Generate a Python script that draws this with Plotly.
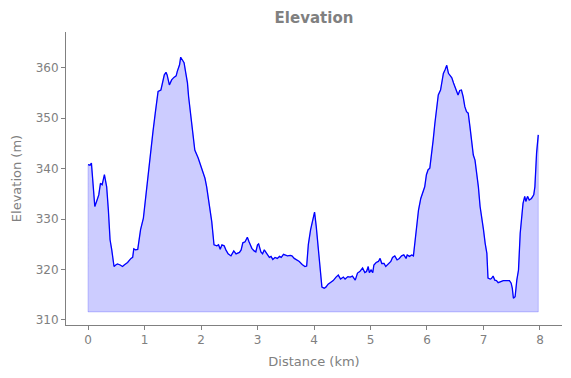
import plotly.graph_objects as go

distance_km = [0.00, 0.035, 0.06, 0.08, 0.12, 0.16, 0.19, 0.22, 0.25, 0.29, 0.31, 0.33, 0.36, 0.39, 0.42, 0.46, 0.49, 0.52, 0.57, 0.61,
               0.64, 0.70, 0.76, 0.79, 0.81, 0.84, 0.88, 0.93, 0.98, 1.02, 1.06, 1.10, 1.15, 1.19, 1.22, 1.24, 1.29, 1.32, 1.35, 1.38,
               1.40, 1.44, 1.48, 1.52, 1.56, 1.58, 1.62, 1.64, 1.68, 1.70, 1.73, 1.76, 1.78, 1.82, 1.85, 1.89, 1.95, 1.99, 2.03, 2.07,
               2.10, 2.14, 2.19, 2.23, 2.28, 2.31, 2.34, 2.37, 2.41, 2.44, 2.48, 2.53, 2.58, 2.62, 2.68, 2.71, 2.74, 2.78, 2.82, 2.85,
               2.90, 2.94, 2.97, 3.00, 3.02, 3.06, 3.09, 3.12, 3.16, 3.21, 3.24, 3.27, 3.31, 3.35, 3.39, 3.42, 3.46, 3.49, 3.53, 3.58,
               3.61, 3.65, 3.69, 3.74, 3.79, 3.84, 3.87, 3.90, 3.94, 3.98, 4.01, 4.04, 4.08, 4.11, 4.14, 4.18, 4.21, 4.25, 4.30, 4.34,
               4.39, 4.43, 4.47, 4.52, 4.55, 4.60, 4.64, 4.68, 4.73, 4.77, 4.81, 4.86, 4.90, 4.93, 4.96, 4.98, 5.01, 5.04, 5.06, 5.10,
               5.14, 5.17, 5.20, 5.24, 5.27, 5.32, 5.36, 5.39, 5.43, 5.47, 5.51, 5.55, 5.59, 5.63, 5.65, 5.69, 5.73, 5.76, 5.79, 5.82,
               5.85, 5.89, 5.93, 5.96, 5.99, 6.02, 6.05, 6.08, 6.11, 6.14, 6.17, 6.20, 6.24, 6.27, 6.29, 6.32, 6.35, 6.38, 6.41, 6.44,
               6.47, 6.50, 6.53, 6.55, 6.58, 6.61, 6.64, 6.67, 6.70, 6.73, 6.76, 6.79, 6.82, 6.85, 6.88, 6.91, 6.94, 6.97, 7.00, 7.03,
               7.06, 7.08, 7.12, 7.14, 7.17, 7.20, 7.23, 7.26, 7.29, 7.35, 7.41, 7.46, 7.49, 7.51, 7.53, 7.56, 7.59, 7.62, 7.65, 7.68,
               7.70, 7.73, 7.75, 7.78, 7.81, 7.85, 7.89, 7.91, 7.94, 7.97]

elevation_m = [340.8, 340.7, 341.1, 338.4, 332.5, 333.8, 334.8, 337.1, 336.8, 338.8, 337.1, 336.4, 331.8, 325.9, 323.9, 320.6, 320.9, 321.1, 320.9, 320.6,
               320.9, 321.4, 322.2, 322.4, 324.1, 323.9, 324.0, 327.9, 330.2, 334.5, 339.1, 343.0, 347.4, 351.0, 353.7, 355.3, 355.6, 357.0, 358.6, 359.1,
               358.6, 356.6, 357.6, 358.1, 358.4, 359.3, 360.6, 362.1, 361.5, 361.0, 359.0, 357.0, 354.3, 350.3, 347.0, 343.7, 342.1, 340.8, 339.1, 338.1,
               336.4, 333.5, 329.5, 324.9, 324.7, 324.9, 324.0, 324.9, 324.7, 323.9, 323.1, 322.7, 323.7, 323.1, 323.4, 323.9, 325.3, 325.5, 326.4, 325.5,
               324.2, 323.7, 323.5, 324.9, 325.1, 323.5, 323.1, 323.9, 323.1, 322.4, 322.6, 322.0, 322.4, 322.2, 322.6, 322.4, 323.0, 322.9, 322.7, 322.8,
               322.7, 322.2, 321.9, 321.6, 321.0, 320.6, 320.7, 325.0, 327.9, 329.8, 331.4, 328.5, 324.0, 320.5, 316.5, 316.3, 316.5, 317.1, 317.4, 317.8,
               318.5, 318.9, 318.1, 318.5, 318.1, 318.6, 318.5, 318.7, 317.9, 319.3, 319.6, 320.3, 319.4, 319.6, 320.6, 319.4, 319.9, 319.4, 320.9, 321.4,
               321.6, 322.2, 321.2, 321.2, 320.6, 321.2, 321.6, 322.4, 322.7, 321.9, 322.2, 322.7, 322.9, 322.2, 322.9, 322.6, 322.9, 322.7, 325.9, 329.2,
               331.8, 334.1, 335.5, 336.4, 338.8, 339.8, 340.1, 342.4, 345.7, 349.0, 352.3, 354.6, 355.6, 357.3, 358.9, 359.6, 360.5, 358.9, 358.3, 358.0,
               357.0, 356.0, 355.0, 354.6, 355.5, 355.6, 354.3, 352.3, 351.3, 351.0, 348.4, 345.7, 342.7, 341.7, 339.1, 336.4, 332.5, 330.5, 327.9, 325.2,
               323.2, 318.3, 318.1, 318.2, 318.7, 317.9, 317.8, 317.4, 317.5, 317.8, 317.8, 317.8, 317.3, 316.3, 314.3, 314.6, 317.9, 319.9, 327.2, 331.2,
               333.1, 334.5, 333.5, 334.5, 333.8, 334.1, 334.8, 336.4, 343.1, 346.7]

fill_base_m = 311.6
x_ticks = [0, 1, 2, 3, 4, 5, 6, 7, 8]
y_ticks = [310, 320, 330, 340, 350, 360]

GRAY = "#808080"
FONT = "DejaVu Sans"

fig = go.Figure()

# shaded area down to a constant baseline
poly_x = distance_km + [distance_km[-1], distance_km[0], distance_km[0]]
poly_y = elevation_m + [fill_base_m, fill_base_m, elevation_m[0]]
fig.add_trace(go.Scatter(x=poly_x, y=poly_y, mode="lines", fill="toself",
                         fillcolor="rgba(0,0,255,0.2)",
                         line=dict(color="rgba(0,0,255,0.2)", width=1),
                         hoverinfo="skip", showlegend=False))

fig.add_trace(go.Scatter(x=distance_km, y=elevation_m, mode="lines",
                         line=dict(color="#0000ff", width=1.3),
                         showlegend=False))

axis_common = dict(showgrid=False, zeroline=False, showline=True, linecolor=GRAY, linewidth=1,
                   ticks="outside", ticklen=4, tickcolor=GRAY, tickwidth=1,
                   tickfont=dict(family=FONT, size=12, color=GRAY),
                   mirror=False, automargin=False)

# page body has an 8px default margin, so the figure is sized to fit the 571x378 window
fig.update_layout(
    width=563, height=370,
    margin=dict(l=58, r=9, t=24, b=53),
    paper_bgcolor="white", plot_bgcolor="white",
    title=dict(text="<b>Elevation</b>", x=0.5, xref="paper", y=1 - 10 / 370, yref="container",
               xanchor="center", yanchor="middle",
               font=dict(family=FONT, size=15, color=GRAY)),
    xaxis=dict(range=[-0.39, 8.39], tickvals=x_ticks,
               title=dict(text="Distance (km)", font=dict(family=FONT, size=13, color=GRAY), standoff=10),
               **axis_common),
    yaxis=dict(range=[309.0, 367.1], tickvals=y_ticks,
               title=dict(text="Elevation (m)", font=dict(family=FONT, size=13, color=GRAY), standoff=11),
               **axis_common),
)

fig.write_html("out.html")
